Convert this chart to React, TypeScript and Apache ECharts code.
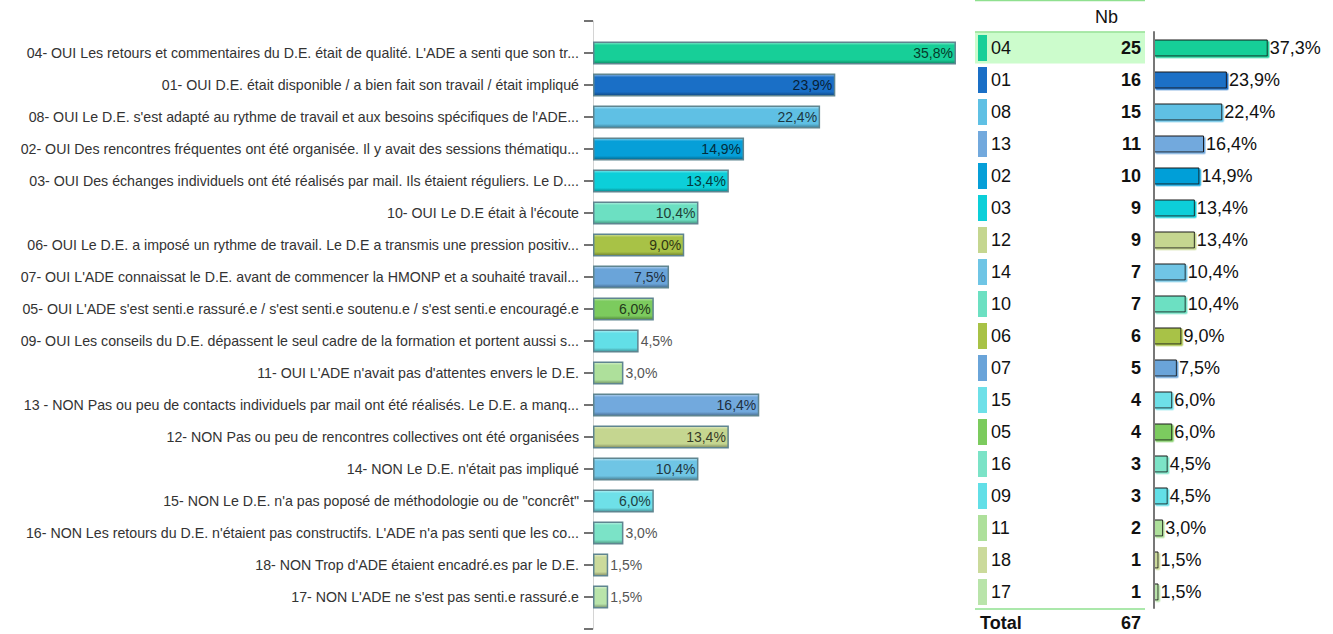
import React, { useEffect, useRef } from "react";
import * as echarts from "echarts";

// ---- Left chart data ----
const leftLabels: string[] = [
  "04- OUI Les retours et commentaires du D.E. était de qualité. L'ADE a senti que son tr...",
  "01- OUI D.E. était disponible / a bien fait son travail / était impliqué",
  "08- OUI Le D.E. s'est adapté au rythme de travail et aux besoins spécifiques de l'ADE...",
  "02- OUI Des rencontres fréquentes ont été organisée. Il y avait des sessions thématiqu...",
  "03- OUI Des échanges individuels ont été réalisés par mail. Ils étaient réguliers. Le D....",
  "10- OUI Le D.E était à l'écoute",
  "06- OUI Le D.E. a imposé un rythme de travail. Le D.E a transmis une pression positiv...",
  "07- OUI L'ADE connaissat le D.E. avant de commencer la HMONP et a souhaité travail...",
  "05- OUI L'ADE s'est senti.e rassuré.e / s'est senti.e soutenu.e / s'est senti.e encouragé.e",
  "09- OUI Les conseils du D.E. dépassent le seul cadre de la formation et portent aussi s...",
  "11- OUI L'ADE n'avait pas d'attentes envers le D.E.",
  "13 - NON Pas ou peu de contacts individuels par mail ont été réalisés. Le D.E. a manq...",
  "12- NON Pas ou peu de rencontres collectives ont été organisées",
  "14- NON Le D.E. n'était pas impliqué",
  "15- NON Le D.E. n'a pas poposé de méthodologie ou de \"concrêt\"",
  "16- NON Les retours du D.E. n'étaient pas constructifs. L'ADE n'a pas senti que les co...",
  "18- NON Trop d'ADE étaient encadré.es par le D.E.",
  "17- NON L'ADE ne s'est pas senti.e rassuré.e",
];
const leftCodes: string[] = ["04", "01", "08", "02", "03", "10", "06", "07", "05", "09", "11", "13", "12", "14", "15", "16", "18", "17"];
const leftValues: number[] = [35.8, 23.9, 22.4, 14.9, 13.4, 10.4, 9.0, 7.5, 6.0, 4.5, 3.0, 16.4, 13.4, 10.4, 6.0, 3.0, 1.5, 1.5];

// ---- Right table data ----
const rightCodes: string[] = ["04", "01", "08", "13", "02", "03", "12", "14", "10", "06", "07", "15", "05", "16", "09", "11", "18", "17"];
const rightCounts: number[] = [25, 16, 15, 11, 10, 9, 9, 7, 7, 6, 5, 4, 4, 3, 3, 2, 1, 1];
const rightPercents: number[] = [37.3, 23.9, 22.4, 16.4, 14.9, 13.4, 13.4, 10.4, 10.4, 9.0, 7.5, 6.0, 6.0, 4.5, 4.5, 3.0, 1.5, 1.5];
const respondentsTotal = 67;
const highlightedCode = "04";

const codeColors: Record<string, string> = {
  "04": "#17cf98",
  "01": "#1a6fc6",
  "08": "#5fc0e4",
  "13": "#72a9dd",
  "02": "#069fd8",
  "03": "#0ccfd9",
  "12": "#c5d690",
  "14": "#6fc5e5",
  "10": "#6ce0c2",
  "06": "#a8c246",
  "07": "#6aa4d9",
  "15": "#6ee0e8",
  "05": "#7ccb5e",
  "16": "#7be3c7",
  "09": "#62dfe7",
  "11": "#aee09b",
  "18": "#cbda9b",
  "17": "#b9e4aa",
};

const FONT = "Arial, 'Liberation Sans', sans-serif";

function hexToRgb(h: string): number[] {
  const s = h.replace("#", "");
  return [0, 2, 4].map((i) => parseInt(s.slice(i, i + 2), 16));
}
function mix(h: string, target: number, amt: number): string {
  const c = hexToRgb(h).map((v) => Math.round(v + (target - v) * amt));
  return `rgb(${c[0]},${c[1]},${c[2]})`;
}
const fmt = (v: number) => v.toFixed(1).replace(".", ",") + "%";

export default function App() {
  const ref = useRef<HTMLDivElement>(null);

  useEffect(() => {
    if (!ref.current) return;
    const chart = echarts.init(ref.current, null, { renderer: "svg" });

    const leftCats = ["", ...leftLabels, ""];
    const leftData: any[] = [
      "-",
      ...leftValues.map((v, i) => {
        const base = codeColors[leftCodes[i]];
        const inside = v >= 6;
        return {
          value: v,
          itemStyle: {
            color: new echarts.graphic.LinearGradient(0, 0, 0, 1, [
              { offset: 0, color: mix(base, 255, 0.5) },
              { offset: 0.14, color: base },
              { offset: 0.82, color: base },
              { offset: 1, color: mix(base, 0, 0.35) },
            ]),
          },
          label: inside
            ? { position: "insideRight", distance: 3, color: mix(base, 0, 0.72) }
            : { position: "right", distance: 2, color: "#555" },
        };
      }),
      "-",
    ];

    const rich: any = {
      code: { width: 100, align: "left", padding: [0, 0, 0, 4], fontSize: 18, color: "#111", fontFamily: FONT },
      nb: { width: 50, align: "right", fontSize: 18, fontWeight: "bold", color: "#111", fontFamily: FONT },
    };
    rightCodes.forEach((c, i) => {
      rich["sw" + i] = { width: 9, height: 26, align: "left", backgroundColor: codeColors[c] };
    });

    chart.setOption({
      animation: false,
      grid: [
        { left: 593, top: 21, width: 365, height: 608 },
        { left: 1154, top: 32, width: 122, height: 576 },
        { left: 975, top: 32, width: 170, height: 576 },
      ],
      xAxis: [
        { gridIndex: 0, type: "value", min: 0, max: 36, show: false },
        { gridIndex: 1, type: "value", min: 0, max: 40, show: false },
        { gridIndex: 2, type: "value", min: 0, max: 1, show: false },
      ],
      yAxis: [
        {
          gridIndex: 0,
          type: "category",
          inverse: true,
          boundaryGap: false,
          data: leftCats,
          axisLine: { show: true, lineStyle: { color: "#d4d4d4", width: 1 } },
          axisTick: { show: true, length: 9, lineStyle: { color: "#444", width: 1.5 } },
          axisLabel: { margin: 14, fontSize: 14.2, color: "#333", fontFamily: FONT },
        },
        {
          gridIndex: 1,
          type: "category",
          inverse: true,
          data: rightCodes,
          z: 10,
          axisLine: { show: true, lineStyle: { color: "#777", width: 2 } },
          axisTick: { show: false },
          axisLabel: {
            margin: 13,
            formatter: (value: string, index: number) => `{sw${index}|}{code|${value}}{nb|${rightCounts[index]}}`,
            rich,
          },
        },
        {
          gridIndex: 2,
          type: "category",
          inverse: true,
          data: rightCodes,
          show: false,
        },
      ],
      series: [
        {
          type: "bar",
          xAxisIndex: 0,
          yAxisIndex: 0,
          data: leftData,
          barWidth: 23,
          itemStyle: { borderColor: "#5f8590", borderWidth: 1.5 },
          label: { show: true, fontSize: 14, fontFamily: FONT, formatter: (p: any) => fmt(p.value) },
        },
        {
          type: "bar",
          xAxisIndex: 2,
          yAxisIndex: 2,
          z: 0,
          barWidth: 31,
          silent: true,
          data: rightCodes.map((c) => (c === highlightedCode ? 1 : "-")),
          itemStyle: { color: "#ccfccc" },
        },
        {
          type: "bar",
          xAxisIndex: 1,
          yAxisIndex: 1,
          barWidth: 17,
          data: rightPercents.map((v, i) => ({
            value: v,
            itemStyle: {
              color: codeColors[rightCodes[i]],
              shadowColor: codeColors[rightCodes[i]],
              shadowOffsetX: 1.5,
              shadowOffsetY: 1.5,
              shadowBlur: 0,
            },
          })),
          itemStyle: { borderColor: "#1a1a1a", borderWidth: 1 },
          label: {
            show: true,
            position: "right",
            distance: 2,
            fontSize: 18,
            color: "#111",
            fontFamily: FONT,
            formatter: (p: any) => fmt(p.value),
          },
        },
      ],
      graphic: [
        { type: "line", shape: { x1: 975, y1: 0.5, x2: 1145, y2: 0.5 }, style: { stroke: "#8fe08f", lineWidth: 1.5 } },
        { type: "line", shape: { x1: 975, y1: 32, x2: 1145, y2: 32 }, style: { stroke: "#8fe08f", lineWidth: 1.5 }, z: 20 },
        { type: "line", shape: { x1: 975, y1: 609, x2: 1145, y2: 609 }, style: { stroke: "#8fe08f", lineWidth: 1.5 } },
        {
          type: "text",
          x: 1118,
          y: 17,
          style: { text: "Nb", fontSize: 18, fill: "#111", align: "right", verticalAlign: "middle", fontFamily: FONT },
        },
        {
          type: "text",
          x: 980,
          y: 623,
          style: { text: "Total", fontSize: 18, fontWeight: "bold", fill: "#111", align: "left", verticalAlign: "middle", fontFamily: FONT },
        },
        {
          type: "text",
          x: 1141,
          y: 623,
          style: { text: String(respondentsTotal), fontSize: 18, fontWeight: "bold", fill: "#111", align: "right", verticalAlign: "middle", fontFamily: FONT },
        },
      ],
    });

    return () => chart.dispose();
  }, []);

  return <div ref={ref} style={{ position: "fixed", left: 0, top: 0, width: 1333, height: 634, background: "#fff" }} />;
}
